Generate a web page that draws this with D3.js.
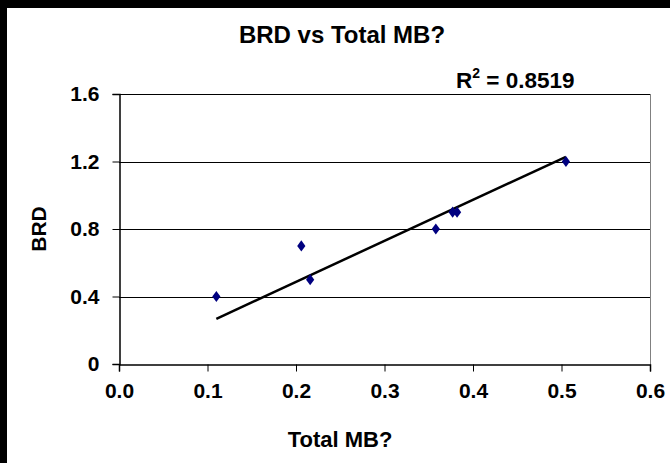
<!DOCTYPE html>
<meta charset="utf-8">
<style>
body { margin: 0; background: #fff; }
text { font-family: "Liberation Sans", Arial, sans-serif; font-weight: bold; fill: #000; }
</style>
<body>
<script src="https://d3js.org/d3.v7.min.js"></script>
<script>

// values
var totalMB = [0.11, 0.206, 0.216, 0.358, 0.377, 0.382, 0.505];
var brd = [0.4, 0.7, 0.5, 0.8, 0.9, 0.9, 1.2];
var trendX = [0.11, 0.505];
var trendY = [0.268, 1.228];
var xTicks = [0, 0.1, 0.2, 0.3, 0.4, 0.5, 0.6];
var yTicks = [0, 0.4, 0.8, 1.2, 1.6];
var rSquared = "0.8519";

var width = 670, height = 463;

var svg = d3.select("body").append("svg")
    .attr("width", width)
    .attr("height", height);

// black frame on the left and top
svg.append("rect").attr("x", 0).attr("y", 0).attr("width", 7).attr("height", height).attr("fill", "#000");
svg.append("rect").attr("x", 0).attr("y", 0).attr("width", width).attr("height", 8).attr("fill", "#000");

var x = d3.scaleLinear().domain([0, 0.6]).range([119, 650]);
var y = d3.scaleLinear().domain([0, 1.6]).range([364, 94]);

// gridlines
svg.append("g")
  .selectAll("line")
  .data(yTicks.slice(1))
  .enter().append("line")
    .attr("x1", x(0)).attr("x2", x(0.6))
    .attr("y1", function(d) { return Math.round(y(d)) + 0.5; })
    .attr("y2", function(d) { return Math.round(y(d)) + 0.5; })
    .attr("stroke", "#000")
    .attr("stroke-width", 1);

// plot area right border
svg.append("line")
    .attr("x1", Math.round(x(0.6)) + 0.5).attr("x2", Math.round(x(0.6)) + 0.5)
    .attr("y1", y(1.6)).attr("y2", y(0))
    .attr("stroke", "#808080");

// axes
var xAxis = svg.append("g")
    .attr("transform", "translate(0," + (Math.round(y(0)) + 0.5) + ")")
    .call(d3.axisBottom(x).tickValues(xTicks).tickFormat(d3.format(".1f")).tickSize(7).tickPadding(12));
var yAxis = svg.append("g")
    .attr("transform", "translate(" + (Math.round(x(0)) + 0.5) + ",0)")
    .call(d3.axisLeft(y).tickValues(yTicks).tickFormat(function(d) { return d === 0 ? "0" : d3.format(".1f")(d); }).tickSize(7).tickPadding(13));

[xAxis, yAxis].forEach(function(a) {
  a.select(".domain").attr("stroke", "#000").attr("stroke-width", 1.5);
  a.selectAll(".tick line").attr("stroke", "#000");
  a.selectAll(".tick text")
    .attr("fill", "#000")
    .style("font-family", "'Liberation Sans', Arial, sans-serif")
    .style("font-weight", "bold")
    .style("font-size", "21px");
});
xAxis.selectAll(".tick text").attr("dy", "0.71em");
xAxis.attr("font-size", null);
yAxis.attr("font-size", null);

// trendline
svg.append("path")
    .datum(d3.zip(trendX, trendY))
    .attr("d", d3.line().x(function(d) { return x(d[0]); }).y(function(d) { return y(d[1]); }))
    .attr("stroke", "#000")
    .attr("stroke-width", 2.5)
    .attr("fill", "none");

// points
svg.append("g")
  .selectAll("path")
  .data(d3.zip(totalMB, brd))
  .enter().append("path")
    .attr("d", d3.symbol().type(d3.symbolDiamond).size(44))
    .attr("transform", function(d) { return "translate(" + x(d[0]) + "," + y(d[1]) + ") scale(1.15,0.9)"; })
    .attr("fill", "#000080");

// titles
svg.append("text")
    .attr("x", 342)
    .attr("y", 43)
    .attr("text-anchor", "middle")
    .style("font-size", "24px")
    .text("BRD vs Total MB?");

svg.append("text")
    .attr("x", 340)
    .attr("y", 447)
    .attr("text-anchor", "middle")
    .style("font-size", "22px")
    .text("Total MB?");

svg.append("text")
    .attr("transform", "translate(46,229) rotate(-90)")
    .attr("text-anchor", "middle")
    .style("font-size", "21px")
    .text("BRD");

var r2 = svg.append("text")
    .attr("x", 456)
    .attr("y", 88)
    .style("font-size", "22.5px");
r2.append("tspan").text("R");
r2.append("tspan").attr("dy", -10).style("font-size", "14px").text("2");
r2.append("tspan").attr("dy", 10).text(" = " + rSquared);

</script>
</body>
